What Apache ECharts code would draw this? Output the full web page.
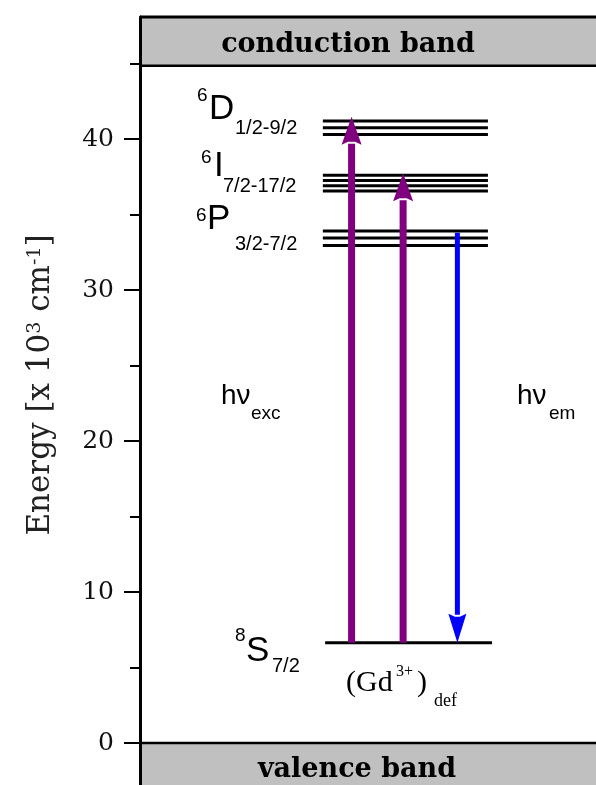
<!DOCTYPE html>
<html><head><meta charset="utf-8">
<script src="https://cdn.jsdelivr.net/npm/echarts@6/dist/echarts.min.js"></script>
<style>html,body{margin:0;padding:0;background:#fff}#c{width:596px;height:785px}</style>
</head><body><div id="c"></div>
<script>
// ---------- data ----------
const yTicksMajor = [0, 10, 20, 30, 40];
const yTicksMinor = [5, 15, 25, 35, 45];
const conductionBand = [44.85, 48.08];
const valenceBand = [-2.78, 0];
const levels6D = [41.2, 40.75, 40.3];
const levels6I = [37.6, 37.25, 36.9, 36.55];
const levels6P = [33.9, 33.45, 32.95];
const level8S = [6.64];
const excitedSpan = [40.1, 76.3];   // x extent (axis units 0..100)
const groundSpan = [40.6, 77.2];
const excArrowX = [46.4, 57.7];
const excArrowTop = [41.47, 37.73];
const emArrowX = [69.6];
const emArrowStart = [33.8];
const levelMult = ['6', '6', '6', '8'];
const levelTerm = ['D', 'I', 'P', 'S'];
const levelJ = ['1/2-9/2', '7/2-17/2', '3/2-7/2', '7/2'];

// ---------- layout (pixels) ----------
const Y_MIN = -2.78, Y_MAX = 48.08;
const labelPos = [
  {sup: [197, 101], main: [209, 120], sub: [235, 134]},
  {sup: [201, 163], main: [214, 177], sub: [223, 192]},
  {sup: [196, 221], main: [207, 230], sub: [235, 250]},
  {sup: [235, 641], main: [246, 662], sub: [272, 672]}
];
const SANS = 'Liberation Sans, Arial, sans-serif';
const SERIF = 'DejaVu Serif, serif';
const TSERIF = 'Liberation Serif, Times New Roman, serif';

function txt(x, baseline, text, size, family, weight, align) {
  return {
    type: 'text', x: x, y: baseline - 0.3 * size, z: 100,
    style: {text: text, fontSize: size, fontFamily: family, fontWeight: weight || 'normal',
      fill: '#000', align: align || 'left', verticalAlign: 'middle'}
  };
}

const graphics = [];
for (let i = 0; i < levelTerm.length; i++) {
  const p = labelPos[i];
  graphics.push(txt(p.sup[0], p.sup[1], levelMult[i], 19, SANS));
  graphics.push(txt(p.main[0], p.main[1], levelTerm[i], 35, SANS));
  graphics.push(txt(p.sub[0], p.sub[1], levelJ[i], 20, SANS));
}
graphics.push(txt(221, 405, 'h\u03bd', 28, SANS));
graphics.push(txt(251, 419, 'exc', 19, SANS));
graphics.push(txt(517, 405, 'h\u03bd', 28, SANS));
graphics.push(txt(549, 419, 'em', 19, SANS));
graphics.push(txt(346, 692, '(Gd', 30, TSERIF));
graphics.push(txt(396, 677, '3+', 16, TSERIF));
graphics.push(txt(417, 692, ')', 30, TSERIF));
graphics.push(txt(434, 707, 'def', 18, TSERIF));
graphics.push(txt(348, 53, 'conduction band', 27, SERIF, 'bold', 'center'));
graphics.push(txt(357, 778, 'valence band', 27, SERIF, 'bold', 'center'));
graphics.push({
  type: 'text', x: 41, y: 385, rotation: Math.PI / 2, z: 100,
  style: {
    text: '{m|Energy [x 10}{s|3}{m| cm}{s|-1}{m|]}',
    align: 'center', verticalAlign: 'middle',
    rich: {
      m: {fontFamily: SERIF, fontSize: 31, fill: '#222'},
      s: {fontFamily: SERIF, fontSize: 19, fill: '#222', verticalAlign: 'top'}
    }
  }
});

// ---------- series data ----------
const levelData = [];
[levels6D, levels6I, levels6P].forEach(g => g.forEach(v => levelData.push([excitedSpan[0], excitedSpan[1], v])));
level8S.forEach(v => levelData.push([groundSpan[0], groundSpan[1], v]));

const excData = excArrowX.map((x, i) => [x, level8S[0], excArrowTop[i]]);
const emData = emArrowX.map((x, i) => [x, emArrowStart[i], level8S[0]]);

function arrowRenderer(color, width, headLen, headW) {
  return function (params, api) {
    const x = api.value(0), y0 = api.value(1), y1 = api.value(2);
    const p0 = api.coord([x, y0]), p1 = api.coord([x, y1]);
    const dir = p1[1] > p0[1] ? 1 : -1;
    const baseY = p1[1] - dir * headLen;
    return {
      type: 'group', children: [
        {type: 'line', shape: {x1: p0[0], y1: p0[1], x2: p0[0], y2: baseY + dir * 3},
          style: {stroke: color, lineWidth: width}},
        {type: 'polygon', shape: {points: [[p1[0], p1[1]], [p1[0] + headW / 2, baseY + dir * 2],
          [p1[0] + width / 2, baseY + dir * 5], [p1[0] - width / 2, baseY + dir * 5], [p1[0] - headW / 2, baseY + dir * 2]]},
          style: {fill: color}}
      ]
    };
  };
}

const option = {
  animation: false,
  backgroundColor: '#fff',
  grid: {left: 140, right: 0, top: 17, bottom: 0, containLabel: false},
  xAxis: {type: 'value', min: 0, max: 100, show: false},
  yAxis: [
    {
      type: 'value', min: Y_MIN, max: Y_MAX, position: 'left', z: 10,
      axisLine: {show: true, lineStyle: {color: '#000', width: 3}},
      axisTick: {show: true, length: 16, lineStyle: {color: '#000', width: 2}, customValues: yTicksMajor},
      axisLabel: {show: true, customValues: yTicksMajor, fontFamily: SERIF, fontSize: 25, color: '#111', margin: 26},
      splitLine: {show: false}
    },
    {
      type: 'value', min: Y_MIN, max: Y_MAX, position: 'left', offset: 0, z: 10,
      axisLine: {show: false},
      axisTick: {show: true, length: 10, lineStyle: {color: '#000', width: 2}, customValues: yTicksMinor},
      axisLabel: {show: false},
      splitLine: {show: false}
    }
  ],
  series: [
    {
      type: 'custom', name: 'bands', z: 1,
      data: [[conductionBand[0], conductionBand[1], 1], [valenceBand[0], valenceBand[1], 0]],
      renderItem: function (params, api) {
        const lo = api.value(0), hi = api.value(1), isCond = api.value(2) === 1;
        const a = api.coord([0, hi]), b = api.coord([100, lo]);
        const ch = [{type: 'rect', shape: {x: a[0], y: a[1], width: b[0] - a[0] + 2, height: b[1] - a[1]},
          style: {fill: '#c0c0c0'}}];
        ch.push({type: 'line', shape: {x1: a[0], y1: a[1], x2: b[0] + 2, y2: a[1]}, style: {stroke: '#000', lineWidth: isCond ? 3 : 2.5}});
        if (isCond) ch.push({type: 'line', shape: {x1: a[0], y1: b[1], x2: b[0] + 2, y2: b[1]}, style: {stroke: '#000', lineWidth: 2.5}});
        return {type: 'group', children: ch};
      }
    },
    {
      type: 'custom', name: 'levels', z: 3, data: levelData,
      renderItem: function (params, api) {
        const p0 = api.coord([api.value(0), api.value(2)]);
        const p1 = api.coord([api.value(1), api.value(2)]);
        return {type: 'line', shape: {x1: p0[0], y1: p0[1], x2: p1[0], y2: p1[1]},
          style: {stroke: '#000', lineWidth: 3}};
      }
    },
    {type: 'custom', name: 'excitation', z: 5, data: excData, renderItem: arrowRenderer('#800080', 7, 30, 20)},
    {type: 'custom', name: 'emission', z: 5, data: emData, renderItem: arrowRenderer('#0000ff', 5, 31, 18)}
  ],
  graphic: graphics
};
const chart = echarts.init(document.getElementById('c'), null, {renderer: 'canvas'});
chart.setOption(option);
</script>
</body></html>
